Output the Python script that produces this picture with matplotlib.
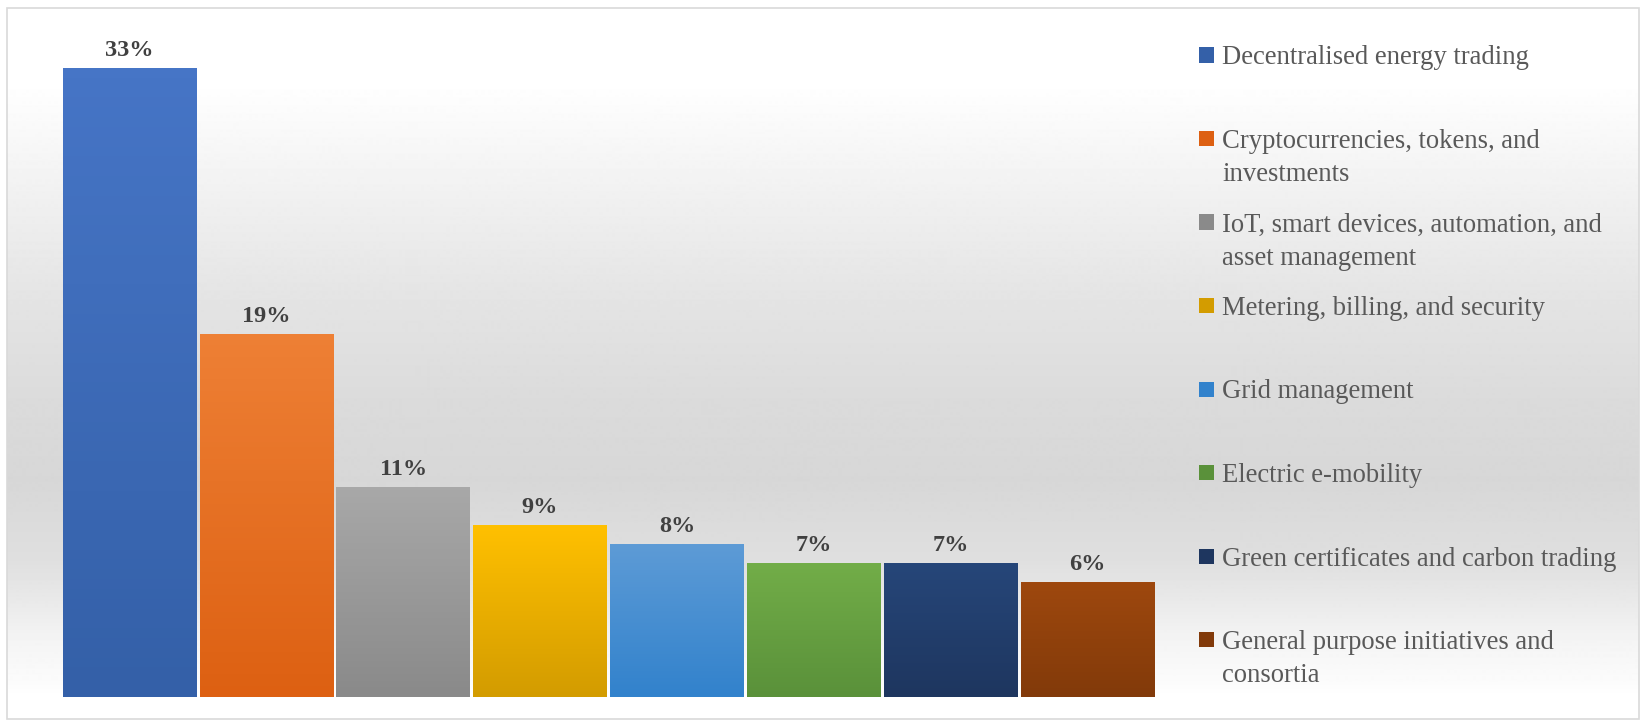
import numpy as np
import matplotlib
matplotlib.use("Agg")
import matplotlib.pyplot as plt
from matplotlib.patches import Rectangle
from matplotlib.colors import to_rgb

categories = [
    "Decentralised energy trading",
    "Cryptocurrencies, tokens, and\ninvestments",
    "IoT, smart devices, automation, and\nasset management",
    "Metering, billing, and security",
    "Grid management",
    "Electric e-mobility",
    "Green certificates and carbon trading",
    "General purpose initiatives and\nconsortia",
]
values = [33, 19, 11, 9, 8, 7, 7, 6]
top_colors = ["#4675c6", "#ee8035", "#a8a8a8", "#ffc000", "#5d9bd6", "#72ad48", "#264679", "#9e480e"]
bot_colors = ["#3460a8", "#dd6012", "#8a8a8a", "#d39c00", "#3282cc", "#5a913a", "#1e365f", "#823a0a"]

W, H = 1647, 726
fig = plt.figure(figsize=(W / 100, H / 100), dpi=100)
fig.patch.set_facecolor("white")


def fx(px):
    return px / W


def fy(py):
    return 1 - py / H


# background gradient inside the chart frame
bg = fig.add_axes([fx(7), fy(719), fx(1639) - fx(7), fy(8) - fy(719)])
bg.set_axis_off()
ys = np.arange(8, 720)
stop_y = [8, 90, 130, 200, 300, 400, 480, 560, 600, 640, 680, 697, 720]
stop_v = [255, 254, 249, 240, 228, 219, 215, 223, 233, 244, 251, 255, 255]
col = np.interp(ys, stop_y, stop_v) / 255.0
img = np.repeat(col[:, None], 2, axis=1)
bg.imshow(img, cmap="gray", vmin=0, vmax=1, aspect="auto", extent=(0, 1, 0, 1))
bg.set_xlim(0, 1)
bg.set_ylim(0, 1)
fig.patches.append(Rectangle((fx(7), fy(719)), fx(1639) - fx(7), fy(8) - fy(719),
                             transform=fig.transFigure, fill=False,
                             edgecolor="#d9d9d9", linewidth=1.2, zorder=10))

# bars
ax = fig.add_axes([fx(61), fy(697), fx(1156) - fx(61), fy(68) - fy(697)])
ax.patch.set_alpha(0)
ax.set_axis_off()
x = np.arange(len(values))
bars = ax.bar(x, values, width=0.975, color="none", edgecolor="none")
for b, tc, bc in zip(bars, top_colors, bot_colors):
    x0, w, h = b.get_x(), b.get_width(), b.get_height()
    t = np.linspace(0, 1, 64)[:, None]
    c1, c2 = np.array(to_rgb(tc)), np.array(to_rgb(bc))
    grad = (1 - t)[:, :, None] * c1 + t[:, :, None] * c2
    grad = np.repeat(grad, 2, axis=1)
    ax.imshow(grad, extent=(x0, x0 + w, 0, h), aspect="auto", zorder=2)
    ax.annotate(f"{h:g}%", (x0 + w / 2, h), xytext=(0, 9), textcoords="offset points",
                ha="center", va="baseline", fontsize=17.5, fontweight="bold",
                family="Liberation Serif", color="#404040", zorder=3)
ax.set_xlim(-0.5, len(values) - 0.5)
ax.set_ylim(0, max(values))

# legend drawn by hand
leg_y0, leg_step, line_step = 55, 83.5, 33
for i, (lab, tc, bc) in enumerate(zip(categories, top_colors, bot_colors)):
    yc = leg_y0 + i * leg_step
    fig.patches.append(Rectangle((fx(1199), fy(yc + 7.5)), fx(15), 15 / H,
                                 transform=fig.transFigure, facecolor=bc,
                                 edgecolor="none", zorder=5))
    for k, line in enumerate(lab.split("\n")):
        fig.text(fx(1222), fy(yc + k * line_step), line, ha="left", va="center_baseline",
                 fontsize=19.2, family="Liberation Serif", color="#595959")

fig.savefig("out.png", dpi=100)
